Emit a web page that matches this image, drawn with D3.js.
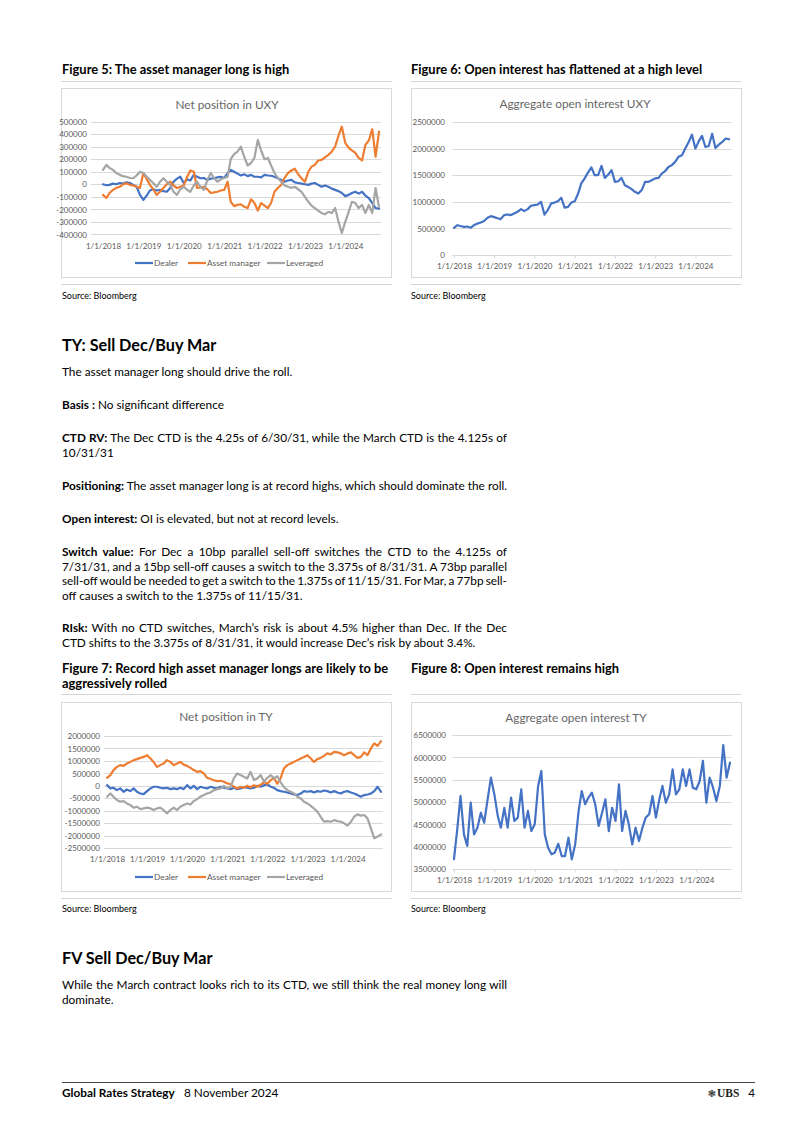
<!DOCTYPE html>
<html><head><meta charset="utf-8">
<script src="https://cdn.jsdelivr.net/npm/d3@7"></script>
<style>body{margin:0;background:#fff}svg{display:block}</style>
</head><body>
<svg id="page" width="802" height="1134"></svg>
<script>
// ---------- DATA ----------
const monthLabels = d3.range(83); // Jan 2018 .. Nov 2024 (monthly)
const xTickLabels = ["1/1/2018","1/1/2019","1/1/2020","1/1/2021","1/1/2022","1/1/2023","1/1/2024"];
const seriesNames = ["Dealer","Asset manager","Leveraged"];

const uxyTicks = [-400000,-300000,-200000,-100000,0,100000,200000,300000,400000,500000];
const uxyOITicks = [0,500000,1000000,1500000,2000000,2500000];
const tyTicks = [-2500000,-2000000,-1500000,-1000000,-500000,0,500000,1000000,1500000,2000000];
const tyOITicks = [3500000,4000000,4500000,5000000,5500000,6000000,6500000];

const uxyDealer = [0,-8000,-5000,5000,0,10000,5000,15000,10000,-5000,-20000,-85000,
-125000,-90000,-50000,-40000,-50000,-45000,-55000,-60000,-30000,20000,45000,60000,
10000,40000,30000,75000,60000,48000,50000,35000,45000,48000,55000,60000,
50000,88000,115000,100000,85000,70000,80000,65000,75000,60000,60000,55000,
75000,70000,68000,60000,48000,35000,20000,30000,35000,15000,10000,5000,
0,-5000,5000,10000,-5000,-20000,-10000,-20000,-35000,-45000,-55000,-70000,
-95000,-85000,-70000,-60000,-75000,-60000,-90000,-110000,-150000,-190000,-195000];

const uxyAsset = [-85000,-110000,-70000,-45000,-30000,-20000,0,8000,-5000,-10000,-20000,-30000,
90000,40000,-5000,-40000,-85000,-60000,-30000,0,20000,-10000,-30000,-20000,
-10000,60000,110000,100000,-30000,-25000,-20000,-40000,-70000,-65000,-60000,-50000,
-45000,20000,-140000,-175000,-165000,-160000,-180000,-190000,-120000,-150000,-210000,-150000,
-170000,-190000,-150000,-60000,-30000,-5000,50000,90000,110000,125000,80000,48000,
20000,100000,140000,155000,190000,195000,215000,235000,260000,300000,390000,460000,
330000,290000,270000,250000,210000,190000,315000,350000,440000,220000,420000];

const uxyLev = [115000,155000,130000,115000,90000,75000,65000,60000,50000,48000,70000,100000,
90000,60000,35000,10000,-20000,20000,48000,20000,-5000,-60000,-85000,-40000,
-20000,-45000,-60000,-10000,20000,-20000,-45000,30000,90000,50000,20000,40000,
50000,60000,200000,240000,260000,300000,220000,150000,170000,210000,355000,270000,
200000,210000,150000,90000,50000,20000,-10000,-20000,-30000,-20000,-40000,-60000,
-100000,-140000,-170000,-190000,-210000,-230000,-240000,-220000,-230000,-190000,-300000,-390000,
-300000,-220000,-140000,-150000,-190000,-165000,-230000,-165000,-230000,-30000,-180000];

const uxyOI = [512000,560000,545000,530000,535000,512000,560000,590000,610000,640000,700000,730000,
712000,690000,675000,750000,762000,750000,780000,812000,862000,825000,862000,925000,
937000,950000,1000000,760000,845000,970000,985000,1010000,1075000,890000,905000,985000,
1010000,1155000,1345000,1440000,1550000,1645000,1500000,1500000,1675000,1450000,1512000,1595000,
1375000,1387000,1450000,1312000,1280000,1237000,1187000,1155000,1220000,1375000,1375000,1405000,
1440000,1450000,1530000,1575000,1655000,1690000,1750000,1845000,1875000,2000000,2125000,2262000,
2000000,2140000,2240000,2030000,2050000,2280000,2012000,2075000,2125000,2190000,2175000];

const tyDealer = [25000,-105000,-80000,-175000,-105000,-240000,-150000,-215000,-105000,-240000,-310000,-335000,
-215000,-105000,-40000,-40000,-80000,-105000,-80000,-135000,-105000,-135000,-80000,-135000,
25000,-105000,0,-135000,-40000,-80000,-105000,-40000,-80000,-105000,-40000,-80000,
-105000,-135000,-80000,-135000,-105000,-55000,-80000,-105000,-80000,0,-40000,25000,
50000,-40000,-80000,-175000,-215000,-240000,-270000,-310000,-350000,-375000,-310000,-215000,
-240000,-215000,-270000,-215000,-240000,-190000,-215000,-270000,-215000,-270000,-310000,-240000,
-215000,-270000,-310000,-375000,-440000,-375000,-350000,-310000,-215000,-40000,-240000];

const tyAsset = [320000,430000,630000,760000,830000,800000,895000,960000,1030000,1070000,1120000,1160000,
1230000,1095000,960000,760000,830000,895000,1030000,960000,830000,895000,960000,850000,
800000,720000,630000,560000,590000,495000,320000,270000,225000,185000,200000,160000,
95000,60000,-40000,-105000,-40000,-80000,0,-60000,20000,-40000,40000,150000,
80000,230000,320000,80000,295000,695000,830000,895000,960000,1030000,1095000,1160000,
1230000,1095000,960000,1070000,1120000,1200000,1300000,1260000,1365000,1340000,1300000,1230000,
1300000,1340000,1230000,1120000,1160000,1340000,1230000,1500000,1700000,1600000,1790000];

const tyLev = [-440000,-310000,-440000,-575000,-640000,-615000,-710000,-775000,-880000,-840000,-935000,-910000,
-880000,-910000,-975000,-910000,-880000,-975000,-1110000,-975000,-880000,-975000,-840000,-775000,
-710000,-750000,-615000,-535000,-440000,-375000,-310000,-270000,-175000,-135000,-105000,0,
-105000,-40000,295000,495000,430000,360000,295000,560000,230000,295000,430000,160000,
320000,430000,300000,380000,150000,-50000,-175000,-240000,-310000,-440000,-510000,-640000,
-710000,-805000,-910000,-1040000,-1245000,-1445000,-1420000,-1445000,-1380000,-1420000,-1445000,-1510000,
-1600000,-1445000,-1245000,-1150000,-1200000,-1175000,-1310000,-1710000,-2110000,-2040000,-1950000];

const tyOI = [3720000,4425000,5135000,4275000,4015000,4985000,4275000,4425000,4760000,4535000,5060000,5545000,
5170000,4685000,4425000,4870000,4425000,5100000,4575000,4650000,5285000,4425000,4800000,4350000,
4500000,5360000,5695000,4275000,3975000,3830000,3865000,4065000,3790000,3790000,4200000,3715000,
4050000,4800000,5245000,4950000,5100000,5210000,4950000,4465000,4760000,5060000,4350000,4870000,
4575000,5395000,4350000,4800000,4500000,4050000,4425000,4130000,4425000,4650000,4725000,5135000,
4650000,5060000,5360000,4985000,5170000,5730000,5170000,5285000,5730000,5360000,5730000,5320000,
5285000,5470000,5920000,4985000,5545000,5320000,5020000,5360000,6275000,5545000,5880000];

// ---------- DRAWING ----------
const months = monthLabels.map(i => new Date(2018, i, 1));
const yearDates = xTickLabels.map((s, i) => new Date(2018 + i, 0, 1));
const COLORS = ["#4472C4", "#ED7D31", "#A5A5A5"];
const FONT = "Lato, 'Open Sans', sans-serif";
const svg = d3.select("#page");

function textLine(x, y, segs, size, justifyW, anchor, ls) {
  const t = svg.append("text").attr("x", x).attr("y", y)
    .attr("font-family", FONT).attr("font-size", size).attr("fill", "#000")
    .style("white-space", "pre");
  if (anchor) t.attr("text-anchor", anchor);
  if (ls) t.attr("letter-spacing", ls);
  segs.forEach(([b, s]) => t.append("tspan").attr("font-weight", b ? 700 : 400).text(s));
  if (justifyW) {
    const w = t.node().getComputedTextLength();
    const n = (segs.map(s => s[1]).join("").match(/ /g) || []).length;
    if (n) t.attr("word-spacing", ((justifyW - w) / n).toFixed(3));
  }
  return t;
}
function hline(x1, x2, y, color) {
  svg.append("line").attr("x1", x1).attr("x2", x2).attr("y1", y + 0.5).attr("y2", y + 0.5)
    .attr("stroke", color).attr("stroke-width", 1);
}

function drawChart(c) {
  const g = svg.append("g");
  g.append("rect").attr("x", c.box[0] + 0.5).attr("y", c.box[1] + 0.5)
    .attr("width", c.box[2]).attr("height", c.box[3])
    .attr("fill", "#fff").attr("stroke", "#d9d9d9");
  g.append("text").attr("x", c.titleX).attr("y", c.titleY).attr("text-anchor", "middle")
    .attr("font-family", FONT).attr("font-size", 11.8).attr("fill", "#666").text(c.title);
  const x = d3.scaleTime().domain([months[0], months[months.length - 1]]).range(c.xr);
  const y = d3.scaleLinear().domain(d3.extent(c.ticks)).range(c.yr);
  g.selectAll("line.grid").data(c.ticks).join("line").attr("class", "grid")
    .attr("x1", c.gx[0]).attr("x2", c.gx[1])
    .attr("y1", d => Math.round(y(d)) + 0.5).attr("y2", d => Math.round(y(d)) + 0.5)
    .attr("stroke", "#d9d9d9").attr("stroke-width", 1);
  const ya = g.append("g").attr("transform", `translate(${c.yLabelX},0)`)
    .call(d3.axisLeft(y).tickValues(c.ticks).tickSize(0).tickPadding(0).tickFormat(d => String(d)));
  ya.select(".domain").remove();
  ya.selectAll("text").attr("font-family", FONT).attr("font-size", 8).attr("fill", "#595959").attr("dy", "0.34em");
  const bottom = Math.round(y(c.ticks[0])) + 0.5;
  const xa = g.append("g").attr("transform", `translate(0,${bottom})`)
    .call(d3.axisBottom(x).tickValues(yearDates).tickSize(c.tickLen).tickFormat((d, i) => xTickLabels[i]));
  xa.select(".domain").remove();
  xa.selectAll(".tick line").attr("stroke", "#d9d9d9");
  xa.selectAll("text").attr("font-family", FONT).attr("font-size", 8).attr("fill", "#595959")
    .attr("y", c.xLabelY - bottom).attr("dy", null);
  const line = d3.line().x((d, i) => x(months[i])).y(d => y(d)).curve(d3.curveLinear);
  c.series.forEach((s, k) => {
    g.append("path").datum(s).attr("d", line).attr("fill", "none")
      .attr("stroke", COLORS[c.series.length === 1 ? 0 : k]).attr("stroke-width", 2.2)
      .attr("stroke-linejoin", "round").attr("stroke-linecap", "round");
  });
  if (c.legendY) {
    const lx = [135, 188, 267].map(v => v + c.box[0] - 61);
    seriesNames.forEach((n, k) => {
      g.append("line").attr("x1", lx[k]).attr("x2", lx[k] + 18).attr("y1", c.legendY).attr("y2", c.legendY)
        .attr("stroke", COLORS[k]).attr("stroke-width", 2.2);
      g.append("text").attr("x", lx[k] + 19).attr("y", c.legendY + 2.9)
        .attr("font-family", FONT).attr("font-size", 8.3).attr("fill", "#595959").text(n);
    });
  }
}

// Figure titles & separators
const L = 62, R = 411;
const FT = 12.9;
textLine(L, 74, [[1, "Figure 5: The asset manager long is high"]], FT);
textLine(R, 74, [[1, "Figure 6: Open interest has flattened at a high level"]], FT);
hline(61, 392, 81, "#d4d4d4"); hline(411, 741, 81, "#d4d4d4");
hline(61, 392, 284, "#d4d4d4"); hline(411, 741, 284, "#d4d4d4");
textLine(L, 299, [[0, "Source: Bloomberg"]], 9);
textLine(R, 299, [[0, "Source: Bloomberg"]], 9);

drawChart({box: [61, 88, 330, 189], title: "Net position in UXY", titleX: 227, titleY: 109,
  ticks: uxyTicks, yr: [234.3, 121.7], xr: [103, 379], gx: [91, 381], yLabelX: 87,
  xLabelY: 249, tickLen: 0, series: [uxyDealer, uxyAsset, uxyLev], legendY: 263});
drawChart({box: [411, 88, 330, 189], title: "Aggregate open interest UXY", titleX: 575, titleY: 108,
  ticks: uxyOITicks, yr: [255, 122], xr: [454, 729], gx: [452, 732], yLabelX: 445,
  xLabelY: 269, tickLen: 3, series: [uxyOI]});

// Body text: TY section
const BT = 11.8;
textLine(L, 351, [[1, "TY: Sell Dec/Buy Mar"]], 16.2);
const W = 445;
textLine(L, 376, [[0, "The asset manager long should drive the roll."]], BT);
textLine(L, 409, [[1, "Basis :"], [0, " No significant difference"]], BT);
textLine(L, 442, [[1, "CTD RV:"], [0, " The Dec CTD is the 4.25s of 6/30/31, while the March CTD is the 4.125s of"]], BT, W);
textLine(L, 457, [[0, "10/31/31"]], BT);
textLine(L, 490, [[1, "Positioning:"], [0, " The asset manager long is at record highs, which should dominate the roll."]], BT, W);
textLine(L, 523, [[1, "Open interest:"], [0, " OI is elevated, but not at record levels."]], BT);
textLine(L, 556, [[1, "Switch value:"], [0, " For Dec a 10bp parallel sell-off switches the CTD to the 4.125s of"]], BT, W);
textLine(L, 571, [[0, "7/31/31, and a 15bp sell-off causes a switch to the 3.375s of 8/31/31. A 73bp parallel"]], BT, W);
textLine(L, 585, [[0, "sell-off would be needed to get a switch to the 1.375s of 11/15/31. For Mar, a 77bp sell-"]], BT, W);
textLine(L, 600, [[0, "off causes a switch to the 1.375s of 11/15/31."]], BT);
textLine(L, 632, [[1, "RIsk:"], [0, " With no CTD switches, March\u2019s risk is about 4.5% higher than Dec. If the Dec"]], BT, W);
textLine(L, 647, [[0, "CTD shifts to the 3.375s of 8/31/31, it would increase Dec\u2019s risk by about 3.4%."]], BT);

// Figures 7 & 8
textLine(L, 673, [[1, "Figure 7: Record high asset manager longs are likely to be"]], FT);
textLine(L, 688, [[1, "aggressively rolled"]], FT);
textLine(R, 673, [[1, "Figure 8: Open interest remains high"]], FT);
hline(61, 392, 694, "#d4d4d4"); hline(411, 741, 694, "#d4d4d4");
hline(61, 392, 898, "#d4d4d4"); hline(411, 741, 898, "#d4d4d4");
textLine(L, 912, [[0, "Source: Bloomberg"]], 9);
textLine(R, 912, [[0, "Source: Bloomberg"]], 9);

drawChart({box: [61, 702, 330, 189], title: "Net position in TY", titleX: 226, titleY: 721,
  ticks: tyTicks, yr: [848, 736], xr: [107, 381], gx: [104, 383], yLabelX: 100,
  xLabelY: 862, tickLen: 0, series: [tyDealer, tyAsset, tyLev], legendY: 877});
drawChart({box: [411, 702, 330, 189], title: "Aggregate open interest TY", titleX: 576, titleY: 722,
  ticks: tyOITicks, yr: [869, 735], xr: [454, 730], gx: [452, 732], yLabelX: 446,
  xLabelY: 883, tickLen: 3, series: [tyOI]});

// FV section
textLine(L, 964, [[1, "FV Sell Dec/Buy Mar"]], 16.2);
textLine(L, 989, [[0, "While the March contract looks rich to its CTD, we still think the real money long will"]], BT, W);
textLine(L, 1004, [[0, "dominate."]], BT);

// Footer
svg.append("line").attr("x1", 62).attr("x2", 755).attr("y1", 1082.5).attr("y2", 1082.5).attr("stroke", "#444").attr("stroke-width", 1);
textLine(L, 1097, [[1, "Global Rates Strategy"]], 11.8);
textLine(184, 1097, [[0, "8 November 2024"]], 11.8);
svg.append("text").attr("x", 716).attr("y", 1097).attr("font-family", "DejaVu Sans").attr("font-size", 10).attr("fill", "#333").attr("text-anchor", "end").text("\u2743");
svg.append("text").attr("x", 717).attr("y", 1097).attr("font-family", "'Liberation Serif', serif").attr("font-weight", 700).attr("font-size", 11.5).attr("fill", "#222").text("UBS");
textLine(755, 1097, [[0, "4"]], 11.8, null, "end");
</script>
</body></html>
